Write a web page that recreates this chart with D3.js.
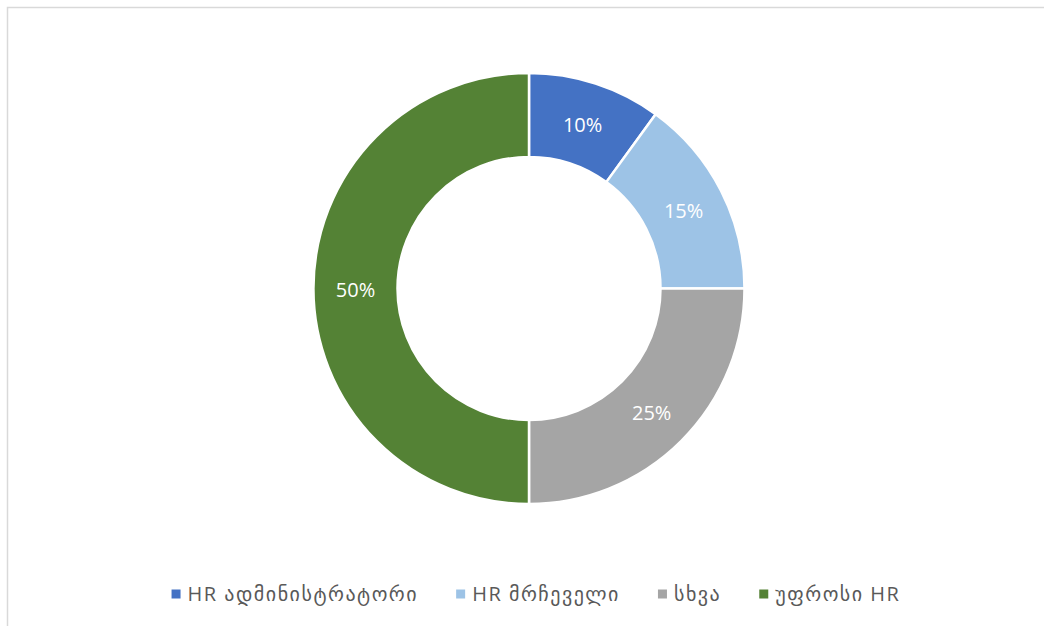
<!DOCTYPE html>
<html>
<head>
<meta charset="utf-8">
<script src="https://cdn.jsdelivr.net/npm/d3@7"></script>
<style>
  body { margin: 0; background: #fff; }
  .app svg { display: block; font-family: "Segoe UI", "Open Sans", "DejaVu Sans", sans-serif; }
  .label { fill: #fff; font-size: 20px; }
  .legend-text { fill: #595959; font-size: 20px; letter-spacing: 1.5px; }
</style>
</head>
<body>
<div class="app"></div>
<script>
'use strict'

var categories = ["HR ადმინისტრატორი", "HR მრჩეველი", "სხვა", "უფროსი HR"];
var values = [10, 15, 25, 50];
var colors = ["#4472C4", "#9DC3E6", "#A5A5A5", "#548235"];

var width = 1044;
var height = 626;

var cx = 529, cy = 288.5;
var outerR = 215.5, innerR = 131.5;

var svg = d3.select(".app")
            .append("svg")
            .attr("width", width)
            .attr("height", height);

// рамка
svg.append("rect")
   .attr("x", 7.5)
   .attr("y", 7.5)
   .attr("width", width + 20)
   .attr("height", height + 20)
   .attr("fill", "none")
   .attr("stroke", "#d9d9d9")
   .attr("stroke-width", 1.5);

var pie = d3.pie().sort(null).value(function(d) { return d; });
var arc = d3.arc().innerRadius(innerR).outerRadius(outerR);
var labelArc = d3.arc().innerRadius((innerR + outerR) / 2).outerRadius((innerR + outerR) / 2);

var total = d3.sum(values);
var arcs = pie(values);

var g = svg.append("g")
           .attr("transform", "translate(" + cx + "," + cy + ")");

g.selectAll("path.slice")
 .data(arcs)
 .enter().append("path")
 .attr("class", "slice")
 .attr("d", arc)
 .attr("fill", function(d, i) { return colors[i]; })
 .attr("stroke", "#fff")
 .attr("stroke-width", 2.5)
 .attr("stroke-linejoin", "miter");

g.selectAll("text.label")
 .data(arcs)
 .enter().append("text")
 .attr("class", "label")
 .attr("transform", function(d) { return "translate(" + labelArc.centroid(d) + ")"; })
 .attr("text-anchor", "middle")
 .attr("dy", "0.42em")
 .text(function(d) { return Math.round(d.value / total * 100) + "%"; });

// легенда
var legend = svg.append("g").attr("class", "legend");
var items = legend.selectAll("g.item")
                  .data(categories)
                  .enter().append("g")
                  .attr("class", "item");

items.append("rect")
     .attr("width", 9)
     .attr("height", 9)
     .attr("y", -4.5)
     .attr("fill", function(d, i) { return colors[i]; });

items.append("text")
     .attr("class", "legend-text")
     .attr("x", 16)
     .attr("dy", "0.35em")
     .text(function(d) { return d; });

var xPos = 0;
var positions = [];
items.each(function() {
  var w = 16 + d3.select(this).select("text").node().getComputedTextLength();
  positions.push(xPos);
  xPos += w + 38;
});
var totalW = xPos - 38;
var startX = 536 - totalW / 2;

items.attr("transform", function(d, i) {
  return "translate(" + (startX + positions[i]) + ",594)";
});
</script>
</body>
</html>
